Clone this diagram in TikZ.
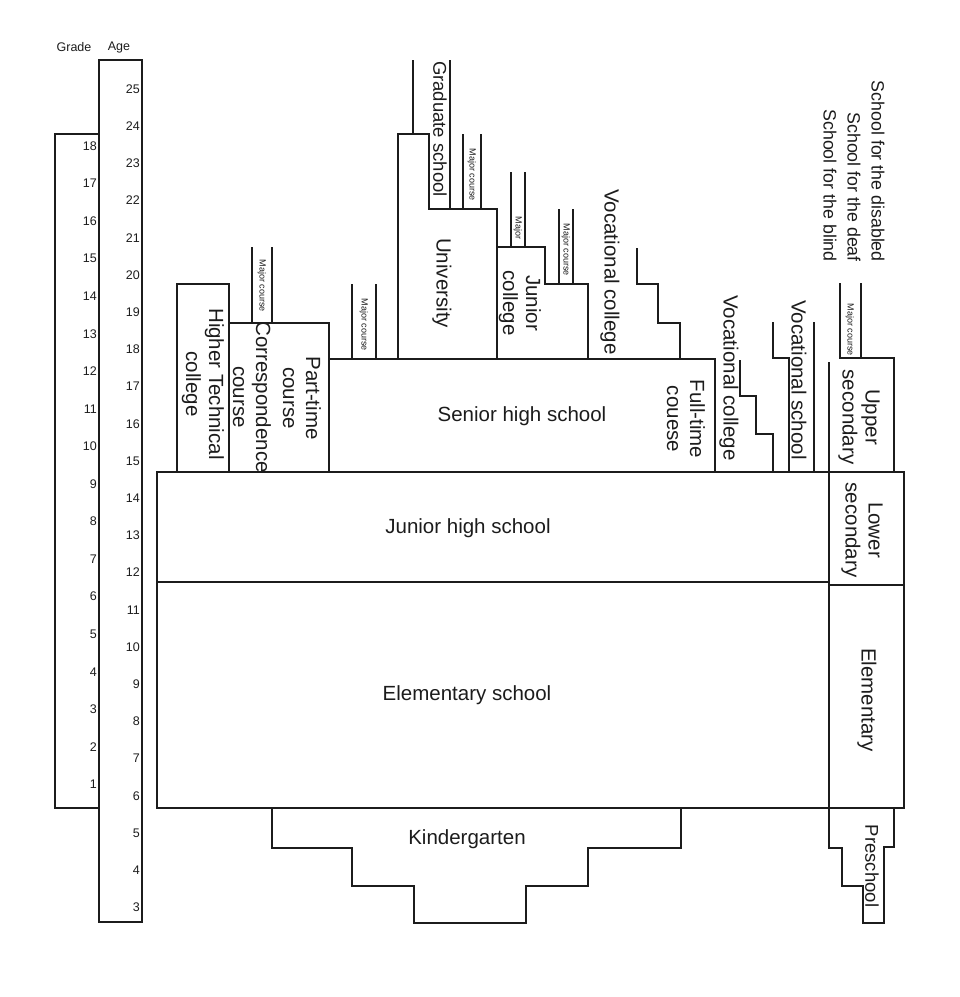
\documentclass[tikz,border=0pt]{standalone}
\usepackage{fontspec}
\setmainfont{Liberation Sans}
\usepackage{xcolor}
\definecolor{Ink}{HTML}{1C1C1C}

\begin{document}
\begin{tikzpicture}[x=1pt,y=-1pt,
  wall/.style={draw=Ink,line width=1.8pt},
  big/.style={font=\fontsize{20.5}{23}\selectfont,align=center,inner sep=0pt,text=Ink},
  down/.style={big,rotate=-90},
  tiny/.style={font=\fontsize{9}{10}\selectfont,inner sep=0pt,rotate=-90,text=Ink},
  num/.style={font=\fontsize{12.5}{14}\selectfont,inner sep=0pt,anchor=east,text=Ink}]
  \useasboundingbox (0,0) rectangle (960,997);

  % grade and age scales
  \draw[wall] (55,134) rectangle (99,808);
  \draw[wall] (99,60) rectangle (142,922);
  \node[num,anchor=center] (gradehead) at (74,47) {Grade};
  \node[num,anchor=center] (agehead) at (119,47) {Age};
  \foreach \a in {3,...,25}{
    \node[num] (age\a) at (140,{89+(25-\a)*37.2}) {\a};
  }
  \foreach \g in {1,...,18}{
    \node[num] (grade\g) at (97,{146+(18-\g)*37.55}) {\g};
  }

  % compulsory blocks
  \draw[wall] (157,472) rectangle (829,582);
  \draw[wall] (157,582) rectangle (829,808);
  \draw[wall] (829,472) rectangle (904,808);
  \draw[wall] (829,585) -- (904,585);
  \draw[wall] (272,808) -- (272,848) -- (352,848) -- (352,886) -- (414,886) -- (414,923)
    -- (526,923) -- (526,886) -- (588,886) -- (588,848) -- (681,848) -- (681,808);
  \draw[wall] (829,808) -- (829,848) -- (842,848) -- (842,886) -- (863,886) -- (863,923)
    -- (884,923) -- (884,847) -- (894,847) -- (894,808);

  % senior high and above
  \draw[wall] (177,472) -- (177,284) -- (229,284) -- (229,472);
  \draw[wall] (229,323) -- (329,323) -- (329,472);
  \draw[wall] (252,247) -- (252,323);
  \draw[wall] (272,247) -- (272,323);
  \draw[wall] (329,359) -- (715,359) -- (715,472);
  \draw[wall] (352,284) -- (352,359);
  \draw[wall] (376,284) -- (376,359);
  \draw[wall] (398,359) -- (398,134) -- (429,134) -- (429,209) -- (497,209) -- (497,359);
  \draw[wall] (413,60) -- (413,134);
  \draw[wall] (450,60) -- (450,209);
  \draw[wall] (463,134) -- (463,209);
  \draw[wall] (481,134) -- (481,209);
  \draw[wall] (497,247) -- (545,247) -- (545,284) -- (588,284) -- (588,359);
  \draw[wall] (511,172) -- (511,247);
  \draw[wall] (525,172) -- (525,247);
  \draw[wall] (559,209) -- (559,284);
  \draw[wall] (573,209) -- (573,284);
  \draw[wall] (637,248) -- (637,284) -- (658,284) -- (658,323) -- (680,323) -- (680,359);
  \draw[wall] (740,360) -- (740,396) -- (756,396) -- (756,434) -- (773,434) -- (773,472);
  \draw[wall] (773,322) -- (773,358) -- (789,358) -- (789,472);
  \draw[wall] (814,322) -- (814,472);

  % special needs schools
  \draw[wall] (829,362) -- (829,472);
  \draw[wall] (840,283) -- (840,358) -- (894,358) -- (894,472);
  \draw[wall] (861,283) -- (861,358);

  % labels
  \node[big] (elem) at (467,695) {Elementary school};
  \node[big] (jhs) at (468,528) {Junior high school};
  \node[big] (shs) at (522,416) {Senior high school};
  \node[big] (kinder) at (467,839) {Kindergarten};
  \node[down] (htc) at (203,384) {Higher Technical\\college};
  \node[down] (corr) at (252,397) {Correspondence\\course};
  \node[down] (parttime) at (302,398) {Part-time\\course};
  \node[down] (fulltime) at (686,419) {Full-time\\couese};
  \node[down] (voccol) at (610,272) {Vocational college};
  \node[down] (voccoltwo) at (729,378) {Vocational college};
  \node[down] (vocsch) at (799,380) {Vocational school};
  \node[down] (univ) at (442,283) {University};
  \node[down,font=\fontsize{18.5}{21}\selectfont] (grad) at (440,129) {Graduate school};
  \node[down] (jcol) at (520,303) {Junior\\college};
  \node[down,font=\fontsize{17.8}{24}\selectfont,align=right,anchor=east] (special) at (854,262)
    {School for the disabled\\School for the deaf\\School for the blind};
  \node[down] (upper) at (859,417) {Upper\\secondary};
  \node[down] (lower) at (862,530) {Lower\\secondary};
  \node[down] (elemsp) at (867,700) {Elementary};
  \node[down,font=\fontsize{18.5}{21}\selectfont] (presch) at (872,866) {Preschool};
  \node[tiny] (majcorr) at (262,286) {Major course};
  \node[tiny] (majshs) at (364,325) {Major course};
  \node[tiny] (majgrad) at (472,175) {Major course};
  \node[tiny] (majjc) at (518,228) {Major};
  \node[tiny] (majjctwo) at (566,250) {Major course};
  \node[tiny] (majsp) at (850,330) {Major course};
\end{tikzpicture}
\end{document}
